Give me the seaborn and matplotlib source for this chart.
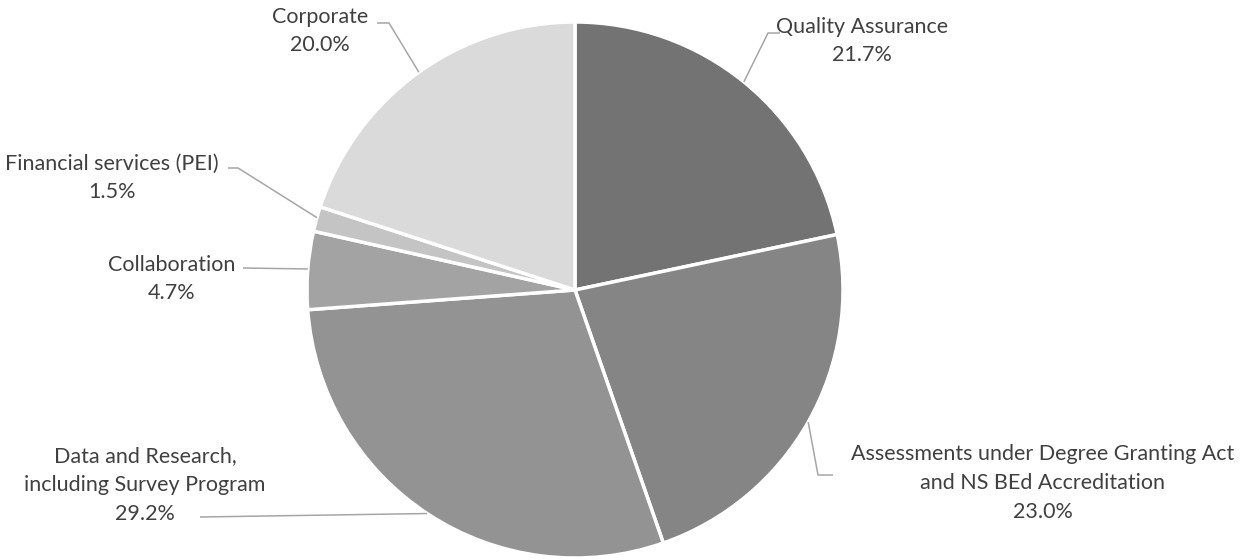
import matplotlib
matplotlib.use("Agg")
import matplotlib.pyplot as plt
import seaborn as sns
import numpy as np

sns.set_theme(style="white")
plt.rcParams["font.family"] = ["Lato", "DejaVu Sans"]

# Budget share by program area (percent), clockwise from 12 o'clock
categories = [
    "Quality Assurance",
    "Assessments under Degree Granting Act\nand NS BEd Accreditation",
    "Data and Research,\nincluding Survey Program",
    "Collaboration",
    "Financial services (PEI)",
    "Corporate",
]
shares = [21.7, 23.0, 29.2, 4.7, 1.5, 20.0]
colors = ["#737373", "#858585", "#939393", "#a3a3a3", "#c4c4c4", "#dadada"]

W, H, DPI = 1246, 560, 100
CX, CY, R = 575, 290, 268  # pie centre and radius in pixels

fig = plt.figure(figsize=(W / DPI, H / DPI), dpi=DPI)
ax = fig.add_axes([(CX - R) / W, (H - CY - R) / H, 2 * R / W, 2 * R / H])

wedges, _ = ax.pie(
    shares,
    colors=colors,
    startangle=90,
    counterclock=False,
    radius=1.0,
    wedgeprops=dict(edgecolor="white", linewidth=2.5),
)
ax.set_xlim(-1, 1)
ax.set_ylim(-1, 1)
ax.set_aspect("equal")
ax.axis("off")


def px(x, y):
    """Pixel position (from top-left) to data coordinates."""
    return (x - CX) / R, (CY - y) / R


# label block centre (px), leader elbow points (px) from the text to the slice
label_layout = [
    dict(text=(862, 41), path=[(780, 33), (768, 33)]),
    dict(text=(1043, 483), path=[(833, 475), (818, 475)]),
    dict(text=(145, 485), path=[(200, 517)]),
    dict(text=(172, 279), path=[(243, 268)]),
    dict(text=(112, 178), path=[(228, 168), (238, 168)]),
    dict(text=(320, 31), path=[(377, 23), (389, 23)]),
]

cum = np.cumsum([0] + shares[:-1])
for cat, val, start, lay in zip(categories, shares, cum, label_layout):
    mid = np.deg2rad(90 - (start + val / 2) * 3.6)
    end = (np.cos(mid), np.sin(mid))
    pts = [px(*p) for p in lay["path"]] + [end]
    xs, ys = zip(*pts)
    ax.plot(xs, ys, color="#a6a6a6", linewidth=1.1, clip_on=False,
            solid_capstyle="butt")
    tx, ty = px(*lay["text"])
    ax.text(tx, ty, f"{cat}\n{val:.1f}%", ha="center", va="center",
            fontsize=15.5, color="#404040", linespacing=1.55, clip_on=False)

fig.savefig("out.png", dpi=DPI, facecolor="white")
